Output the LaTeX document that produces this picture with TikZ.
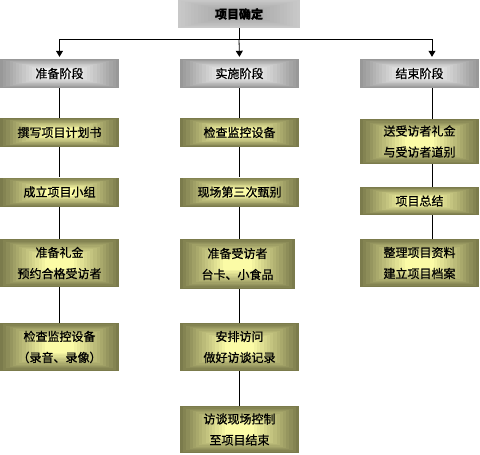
\documentclass[tikz,border=0pt]{standalone}
\usepackage{fontspec}
\newfontfamily\cjk[FakeBold=0.8]{Noto Sans CJK SC}
\usetikzlibrary{calc,arrows.meta}
\definecolor{olivedark}{HTML}{7B7B4C}
\definecolor{olivelight}{HTML}{FBFBA6}
\definecolor{greydark}{HTML}{989898}
\definecolor{greylight}{HTML}{F6F6F6}
\definecolor{topdark}{HTML}{A6A6A6}
\definecolor{toplight}{HTML}{C8C8C8}
\tikzset{
  bevel/.style n args={2}{path picture={
    \foreach \k in {0,...,14}{
      \pgfmathsetmacro\f{\k*0.027}
      \pgfmathsetmacro\p{\k*100/14}
      \fill[#1!\p!#2] ($(path picture bounding box.south west)!\f!(path picture bounding box.north east)$) rectangle ($(path picture bounding box.north east)!\f!(path picture bounding box.south west)$);
    }}},
  box/.style={inner sep=0pt, align=center, font=\cjk\fontsize{12}{21}\selectfont, text=black},
  taskbox/.style={box, bevel={olivelight}{olivedark}, minimum width=119, minimum height=29},
  tallbox/.style={taskbox, minimum height=48},
  phasebox/.style={box, bevel={greylight}{greydark}, minimum width=119, minimum height=29},
  link/.style={line width=0.8pt},
  down/.style={link, -{Triangle[length=6pt,width=7pt]}, shorten >=2pt}
}
\begin{document}
\begin{tikzpicture}[x=1pt,y=-1pt]
\useasboundingbox (0,0) rectangle (480,455);
\node[box, bevel={topdark}{toplight}, minimum width=122, minimum height=28, font=\cjk\bfseries\fontsize{12}{14}\selectfont] (top) at (239,14) {项目确定};
\node[phasebox] (p1) at (59.5,73.5) {准备阶段};
\node[phasebox] (p2) at (239.5,73.5) {实施阶段};
\node[phasebox] (p3) at (419.5,73.5) {结束阶段};
\node[taskbox] (a1) at (59.5,132.5) {撰写项目计划书};
\node[taskbox] (a2) at (59.5,192) {成立项目小组};
\node[tallbox] (a3) at (59.5,263) {准备礼金\\预约合格受访者};
\node[tallbox] (a4) at (59.5,347) {检查监控设备\\（录音、录像）};
\node[taskbox] (b1) at (239.5,132.5) {检查监控设备};
\node[taskbox] (b2) at (239.5,192) {现场第三次甄别};
\node[tallbox, minimum width=115, minimum height=50] (b3) at (237.5,264) {准备受访者\\台卡、小食品};
\node[tallbox] (b4) at (239.5,347) {安排访问\\做好访谈记录};
\node[tallbox, minimum height=47] (b5) at (239.5,429.5) {访谈现场控制\\至项目结束};
\node[tallbox, minimum height=45] (c1) at (419.5,141.5) {送受访者礼金\\与受访者道别};
\node[taskbox, minimum height=28] (c2) at (419.5,201) {项目总结};
\node[tallbox] (c3) at (419.5,263) {整理项目资料\\建立项目档案};
\coordinate (hy) at (239,39);
\coordinate (cx) at (432,0);
\draw[link] (top) -- (hy);
\draw[down] (hy) -| (p1.north);
\draw[down] (hy) -- (p2.north);
\draw[down] (hy) -| (p3.north -| cx);
\draw[link] (p1) -- (a1);
\draw[link] (a1) -- (a2);
\draw[link] (a2) -- (a3);
\draw[link] (a3) -- (a4);
\draw[link] (p2) -- (b1);
\draw[link] (b1) -- (b2);
\draw[link] (b2.south) -- (b3.north -| b2.south);
\draw[link] (b3.south -| b4.north) -- (b4.north);
\draw[link] (b4) -- (b5);
\draw[link] (p3.south -| cx) -- (c1.north -| cx);
\draw[link] (c1.south -| cx) -- (c2.north -| cx);
\draw[link] (c2.south -| cx) -- (c3.north -| cx);
\end{tikzpicture}
\end{document}
